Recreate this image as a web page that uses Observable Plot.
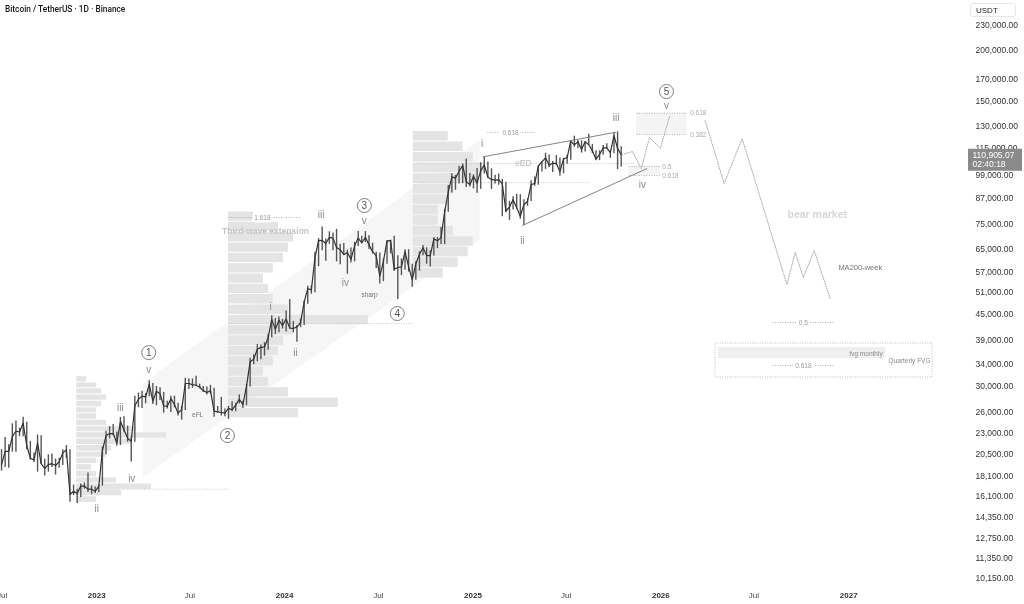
<!DOCTYPE html>
<html><head><meta charset="utf-8">
<script src="https://cdn.jsdelivr.net/npm/d3@7"></script>
<script src="https://cdn.jsdelivr.net/npm/@observablehq/plot@0.6"></script>
<style>
body{margin:0;background:#fff;font-family:"Liberation Sans",Arial,sans-serif}
#wrap{position:relative;width:1024px;height:604px;overflow:hidden;filter:grayscale(1)}
#title{position:absolute;left:5px;top:4px;font-size:8.3px;color:#131722;font-family:Roboto,"Liberation Sans",sans-serif;font-weight:500}
#unit{position:absolute;left:970px;top:3px;width:46px;height:14px;border:1px solid #e6e6e6;border-radius:3px;font-size:8px;line-height:14px;color:#222;padding-left:5px;box-sizing:border-box}
</style></head>
<body><div id="wrap"><div id="chart"></div><div id="title">Bitcoin / TetherUS · 1D · Binance</div><div id="unit">USDT</div></div>
<script>
// ---------- price data (weekly, thousands USDT), weeks starting 2022-06-27 ----------
const weekStart = "2022-06-27";
const lows = [
 18.6,19.0,18.9,20.7,20.7,22.6,22.6,21.0,19.8,19.5,18.5,19.3,18.1,18.5,19.0,18.2,18.9,19.2,20.0,15.6,16.2,15.5,16.0,16.8,16.5,16.3,16.4,
 16.5,17.1,20.4,22.3,22.7,21.4,21.5,23.1,21.9,19.6,21.9,26.6,26.5,27.2,28.3,27.1,26.9,27.7,25.8,26.4,25.9,26.6,25.4,24.8,26.2,29.5,29.7,30.0,29.6,29.0,28.6,28.7,25.2,25.8,25.4,25.3,24.9,26.0,26.0,27.2,26.5,26.9,29.9,33.9,34.5,34.9,35.6,36.8,39.5,40.2,40.6,41.5,
 40.8,41.5,40.6,38.5,41.8,42.3,47.7,50.5,50.9,59.0,64.5,60.8,66.9,64.5,60.6,59.6,62.8,56.5,60.2,60.6,66.1,67.1,67.6,65.0,63.4,58.4,53.5,54.2,59.8,63.4,57.5,49.0,56.1,57.8,57.2,52.5,54.6,57.5,62.7,59.8,58.9,62.6,65.3,66.8,66.8,80.2,89.4,90.8,94.0,94.2,92.2,92.5,91.5,
 89.3,91.2,99.5,97.0,91.2,94.1,93.4,78.2,80.0,76.6,81.2,81.6,77.1,74.4,83.0,85.2,92.8,93.4,100.7,102.1,103.1,100.4,104.2,98.2,99.6,105.1,107.5,115.7,114.7,112.0,112.6,116.8,111.7,107.3,107.3,110.6,114.4,108.7,111.5,102.0,103.5
];
const highs = [
 21.0,22.5,21.6,24.3,24.7,23.7,25.2,24.5,22.0,20.6,22.8,22.7,19.9,20.4,20.5,19.9,20.0,21.0,21.5,21.0,17.2,16.8,17.3,17.4,18.4,17.1,17.0,
 17.2,21.3,23.3,23.9,24.2,23.2,25.2,25.3,24.0,22.6,28.4,28.9,29.2,28.8,31.0,30.5,30.0,29.8,29.0,27.6,28.4,28.4,27.3,26.8,31.4,31.3,31.3,31.8,30.4,30.0,29.9,30.2,29.7,26.8,28.2,26.4,26.8,27.5,27.2,28.6,27.6,30.3,35.2,35.9,38.0,37.9,38.4,40.2,44.7,44.0,44.4,43.8,
 45.9,49.0,43.3,42.3,43.9,48.6,52.8,52.9,64.0,69.1,73.8,68.9,71.8,71.3,72.8,66.9,67.2,64.7,65.5,67.7,71.9,70.0,71.9,70.2,67.3,64.0,63.7,61.5,68.3,68.5,70.0,62.7,61.6,64.9,64.9,59.8,60.6,64.1,66.5,65.6,64.5,69.4,69.5,73.6,81.5,93.3,99.6,98.7,104.0,105.3,108.3,99.9,99.0,
 102.7,106.0,109.6,106.5,102.5,98.8,99.5,96.5,95.0,85.3,87.5,88.8,88.5,86.1,86.5,95.8,97.9,104.3,106.7,111.9,110.7,106.8,110.4,108.9,108.5,110.6,119.9,123.2,120.2,120.0,119.5,124.5,117.6,113.5,113.4,116.8,118.0,113.3,125.7,126.2,116.0
];
const closes = [
 19.3,20.8,20.8,22.6,23.3,23.2,24.4,21.5,20.0,19.8,21.8,19.4,18.9,19.3,19.4,19.2,19.6,20.6,21.0,16.3,16.6,16.4,17.1,17.1,16.8,16.8,16.6,
 17.1,20.9,22.7,23.0,23.0,21.8,24.6,23.5,22.4,22.0,26.9,27.9,28.4,28.3,30.4,27.6,29.2,28.8,26.9,26.8,28.0,27.1,25.8,26.3,30.5,30.5,30.3,30.2,29.9,29.3,29.0,29.3,26.1,26.0,25.9,25.8,26.5,26.3,27.0,27.9,27.1,30.0,34.5,35.0,37.0,37.4,37.5,39.5,43.8,41.4,43.6,42.3,
 43.9,41.7,41.6,42.0,43.0,48.3,52.1,51.7,62.0,68.3,68.4,67.2,69.6,69.3,65.7,64.9,63.1,63.9,61.5,66.3,69.3,67.5,69.6,66.7,64.2,62.7,55.9,60.8,68.2,68.3,58.1,58.7,58.9,64.2,58.9,54.8,59.9,63.3,65.6,62.8,62.8,69.0,68.3,69.5,80.4,89.9,97.9,97.2,101.1,104.4,95.2,93.7,98.3,
 94.5,101.3,104.7,97.7,96.5,96.1,96.3,94.2,80.7,82.6,86.1,82.3,78.4,83.8,85.2,93.7,94.3,104.1,106.5,109.0,104.6,105.7,105.6,100.9,108.4,109.2,119.8,117.3,119.4,114.2,119.3,117.4,113.5,108.2,111.1,115.3,115.3,112.2,123.5,115.0,110.9
];
const lastPrice = 110905.07;
const lastTime = "02:40:18";

// ---------- axis ticks ----------
const yTicks = [230000,200000,170000,150000,130000,115000,99000,87000,75000,65000,57000,51000,45000,39000,34000,30000,26000,23000,20500,18100,16100,14350,12750,11350,10150];
const julTicks = ["2022-07-01","2023-07-01","2024-07-01","2025-07-01","2026-07-01"];
const yearTicks = ["2023-01-01","2024-01-01","2025-01-01","2026-01-01","2027-01-01"];

// ---------- volume profiles (price bin edges in thousands, relative volume) ----------
const profile1Start = "2022-11-23";
const profile1Levels = [15.5,16.1,16.7,17.3,17.9,18.6,19.3,20.0,20.7,21.5,22.3,23.1,23.9,24.8,25.7,26.6,27.6,28.6,29.6,30.6,31.7];
const profile1Volume = [20,45,75,40,20,15,20,30,35,55,90,60,30,20,20,25,30,25,20,10];
const profile2Start = "2023-09-14";
const profile2Levels = [25.0,26.5,28.1,29.8,31.6,33.5,35.5,37.6,39.9,42.3,44.8,47.5,50.4,53.4,56.6,60.0,63.6,67.4,71.5,75.8,80.3];
const profile2Volume = [70,110,60,40,35,45,50,55,65,140,60,45,40,35,45,55,60,65,50,25];
const profile3Start = "2024-09-07";
const profile3Levels = [55,58.4,62.0,65.8,69.8,74.1,78.6,83.4,88.5,93.9,99.7,105.8,112.3,119.2,126.5];
const profile3Volume = [30,45,55,60,40,25,25,35,40,65,70,60,50,35];
const daysPerVolumeUnit = 1.94;
const profileLinePrices = [16800, 42800, 105600, 94800];
const profileLineFrom = ["2022-11-23","2023-09-14","2024-09-07","2024-09-07"];
const profileLineTo = ["2023-09-14","2024-09-07","2025-11-10","2025-08-17"];

// ---------- channel band ----------
const bandDates = ["2023-04-02","2025-01-15"];
const bandLow = [17950, 68365];
const bandHigh = [30550, 120180];

// ---------- Elliott wave labels ----------
const waveText = ["ii","iii","iv","v","i","ii","iii","iv","v","i","ii","iii","iv","v"];
const waveDates = ["2023-01-01","2023-02-16","2023-03-10","2023-04-12","2023-12-05","2024-01-22","2024-03-12","2024-04-28","2024-06-04","2025-01-19","2025-04-07","2025-10-06","2025-11-26","2026-01-12"];
const wavePrices = [15066,26640,17846,33000,47100,36316,79165,53935,76525,118180,68365,136850,93780,146450];
const circleText = ["1","2","3","4","5"];
const circleDates = ["2023-04-12","2023-09-12","2024-06-04","2024-08-07","2026-01-12"];
const circlePrices = [36316,22745,83290,45275,158490];

// ---------- notes ----------
const noteText = ["eFL","sharp","MA200-week"];
const noteDates = ["2023-07-16","2024-06-14","2026-12-12"];
const notePrices = [25610,50400,58700];

// ---------- wedge (ending diagonal) ----------
const wedgeFromDates = ["2025-01-20","2025-04-07"];
const wedgeFromPrices = [109600,74400];
const wedgeToDates = ["2025-10-06","2025-12-05"];
const wedgeToPrices = [126000,102600];

// ---------- projections ----------
const bullPathDates = ["2025-10-17","2025-11-07","2025-11-24","2025-12-10","2025-12-31","2026-01-18"];
const bullPathPrices = [110905,112950,102620,122240,114890,137630];
const bearPathDates = ["2026-03-28","2026-05-04","2026-06-08","2026-09-03","2026-09-19","2026-10-05","2026-10-26","2026-11-26"];
const bearPathPrices = [134550,94300,121550,53330,63880,55480,64610,49280];

// ---------- fib levels with centred labels ----------
const fibText = ["1.618","0.618","0.5","0.618"];
const fibPrices = [77830,125750,43040,33766];
const fibFrom = ["2023-09-14","2025-01-29","2026-08-06","2026-08-06"];
const fibTo = ["2024-02-01","2025-05-02","2026-12-03","2026-12-03"];
const fibMid = ["2023-11-19","2025-03-15","2026-10-05","2026-10-05"];

// ---------- fib zones ----------
const zoneFrom = ["2025-11-15","2025-10-31"];
const zoneTo = ["2026-02-21","2025-12-31"];
const zoneTop = [140200,103790];
const zoneBottom = [124330,98650];
const zoneTopText = ["0.618","0.5"];
const zoneBottomText = ["0.382","0.618"];
const zoneLabelDates = ["2026-02-27","2026-01-04"];

// ---------- FVG boxes ----------
const fvgOuter = {from:"2026-04-17", to:"2027-06-13", top:38227, bottom:31555};
const fvgInner = {from:"2026-04-23", to:"2027-03-14", top:37365, bottom:35110};
const fvgText = ["fvg monthly","Quarterly FVG"];
const fvgTextDates = ["2027-03-08","2027-06-09"];
const fvgTextPrices = [36110,34715];

// ---------- big labels ----------
const bigText = ["Third-wave extension","bear market","eED"];
const bigDates = ["2023-11-25","2026-11-01","2025-04-09"];
const bigPrices = [71915,79165,105560];

// ================= build =================
const D = s => new Date(s + "T00:00:00Z");
const candles = closes.map((c, i) => ({
  date: d3.utcDay.offset(D(weekStart), i * 7 + 3),
  low: lows[i] * 1000, high: highs[i] * 1000, close: c * 1000
}));
function profileBars(start, levels, vols) {
  return vols.map((v, i) => ({x1: D(start), x2: d3.utcHour.offset(D(start), Math.round(v * daysPerVolumeUnit * 24)), y1: levels[i] * 1000, y2: levels[i + 1] * 1000}));
}
const profiles = [
  ...profileBars(profile1Start, profile1Levels, profile1Volume),
  ...profileBars(profile2Start, profile2Levels, profile2Volume),
  ...profileBars(profile3Start, profile3Levels, profile3Volume)
];
const profileLines = profileLinePrices.map((p, i) => ({p, x1: D(profileLineFrom[i]), x2: D(profileLineTo[i])}));
const band = bandDates.map((d, i) => ({x: D(d), y1: bandLow[i], y2: bandHigh[i]}));
const waves = waveText.map((t, i) => ({t, x: D(waveDates[i]), y: wavePrices[i]}));
const circles = circleText.map((t, i) => ({t, x: D(circleDates[i]), y: circlePrices[i]}));
const notes = noteText.map((t, i) => ({t, x: D(noteDates[i]), y: notePrices[i]}));
const wedge = wedgeFromDates.map((d, i) => ({x1: D(d), y1: wedgeFromPrices[i], x2: D(wedgeToDates[i]), y2: wedgeToPrices[i]}));
const bull = bullPathDates.map((d, i) => ({x: D(d), y: bullPathPrices[i]}));
const bear = bearPathDates.map((d, i) => ({x: D(d), y: bearPathPrices[i]}));
const fibs = fibText.map((t, i) => ({t, y: fibPrices[i], x1: D(fibFrom[i]), x2: D(fibTo[i]), xm: D(fibMid[i])}));
const zones = zoneFrom.map((d, i) => ({x1: D(d), x2: D(zoneTo[i]), top: zoneTop[i], bottom: zoneBottom[i], tt: zoneTopText[i], bt: zoneBottomText[i], lx: D(zoneLabelDates[i])}));
const fvgLabels = fvgText.map((t, i) => ({t, x: D(fvgTextDates[i]), y: fvgTextPrices[i]}));
const big = bigText.map((t, i) => ({t, x: D(bigDates[i]), y: bigPrices[i]}));
const fmt = d3.format(",.2f");

const chart = Plot.plot({
  width: 1024, height: 604,
  marginLeft: 0, marginRight: 59, marginTop: 0, marginBottom: 20,
  style: {fontFamily: "'Liberation Sans', Arial, sans-serif", background: "#fff", color: "#333"},
  x: {type: "utc", domain: [D("2022-06-28"), D("2027-08-16")], axis: null},
  y: {type: "log", domain: [9811, 264900], axis: null},
  marks: [
    // channel band
    Plot.areaY(band, {x: "x", y1: "y1", y2: "y2", fill: "#f6f6f6"}),
    // volume profiles
    Plot.rect(profiles, {x1: "x1", x2: "x2", y1: "y1", y2: "y2", fill: "#e4e4e4", insetBottom: 1, ariaLabel: "profile"}),
    Plot.link(profileLines, {x1: "x1", x2: "x2", y1: "p", y2: "p", stroke: "#c8c8c8", strokeWidth: 1, strokeDasharray: "1,1.5"}),
    // fib zones
    Plot.rect(zones, {x1: "x1", x2: "x2", y1: "bottom", y2: "top", fill: "#f4f4f4"}),
    Plot.link(zones, {x1: "x1", x2: "x2", y1: "top", y2: "top", stroke: "#b5b5b5", strokeDasharray: "1,1.5"}),
    Plot.link(zones, {x1: "x1", x2: "x2", y1: "bottom", y2: "bottom", stroke: "#b5b5b5", strokeDasharray: "1,1.5"}),
    Plot.text(zones, {x: "lx", y: "top", text: "tt", textAnchor: "start", fontSize: 6.5, fill: "#aaa"}),
    Plot.text(zones, {x: "lx", y: "bottom", text: "bt", textAnchor: "start", fontSize: 6.5, fill: "#aaa"}),
    // FVG
    Plot.rect([fvgOuter], {x1: d => D(d.from), x2: d => D(d.to), y1: "bottom", y2: "top", fill: "none", stroke: "#bdbdbd", strokeDasharray: "1,1.5"}),
    Plot.rect([fvgInner], {x1: d => D(d.from), x2: d => D(d.to), y1: "bottom", y2: "top", fill: "#efefef"}),
    Plot.text(fvgLabels, {x: "x", y: "y", text: "t", textAnchor: "end", fontSize: 6.5, fill: "#8c8c8c"}),
    // fib lines
    Plot.link(fibs, {x1: "x1", x2: "x2", y1: "y", y2: "y", stroke: "#b0b0b0", strokeDasharray: "1,1.5"}),
    Plot.text(fibs, {x: "xm", y: "y", text: "t", fontSize: 6.5, fill: "#9a9a9a", stroke: "#fff", strokeWidth: 5}),
    // price
    Plot.ruleX(candles, {x: "date", y1: "low", y2: "high", stroke: "#555", strokeWidth: 1.4}),
    Plot.line(candles, {x: "date", y: "close", stroke: "#333", strokeWidth: 1.2}),
    // wedge
    Plot.link(wedge, {x1: "x1", y1: "y1", x2: "x2", y2: "y2", stroke: "#777", strokeWidth: 0.9}),
    // projections
    Plot.line(bull, {x: "x", y: "y", stroke: "#a8a8a8", strokeWidth: 1, strokeDasharray: "1,1.5"}),
    Plot.line(bear, {x: "x", y: "y", stroke: "#a8a8a8", strokeWidth: 1, strokeDasharray: "1,1.5"}),
    // labels
    Plot.text(big.slice(0, 1), {x: "x", y: "y", text: "t", fontSize: 8.5, fontWeight: "bold", fill: "#c4c4c4"}),
    Plot.text(big.slice(1, 2), {x: "x", y: "y", text: "t", fontSize: 10.5, fontWeight: "bold", fill: "#d6d6d6"}),
    Plot.text(big.slice(2, 3), {x: "x", y: "y", text: "t", fontSize: 8.5, fill: "#b8b8b8"}),
    Plot.text(notes.slice(0, 2), {x: "x", y: "y", text: "t", fontSize: 6.5, fill: "#777"}),
    Plot.text(notes.slice(2), {x: "x", y: "y", text: "t", fontSize: 7.5, fill: "#777", textAnchor: "start"}),
    Plot.text(waves, {x: "x", y: "y", text: "t", fontSize: 10, fill: "#8a8a8a"}),
    Plot.dot(circles, {x: "x", y: "y", r: 7, stroke: "#6f6f6f", strokeWidth: 0.9, fill: "#fff"}),
    Plot.text(circles, {x: "x", y: "y", text: "t", fontSize: 10, fill: "#555"}),
    // axes
    Plot.axisY({anchor: "right", ticks: yTicks, tickFormat: fmt, tickSize: 0, tickPadding: 10, fontSize: 8.5, label: null, fill: "#333"}),
    Plot.axisX({ticks: julTicks.map(D), tickFormat: () => "Jul", tickSize: 0, tickPadding: 8, fontSize: 8, label: null, fill: "#444"}),
    Plot.axisX({ticks: yearTicks.map(D), tickFormat: d => String(d.getUTCFullYear()), tickSize: 0, tickPadding: 8, fontSize: 8, fontWeight: "bold", label: null, fill: "#333"}),
    // current price tag
    Plot.ruleY([lastPrice], {stroke: "#8a8a8a", strokeWidth: 22, dy: 5, insetLeft: 968, insetRight: -57}),
    Plot.text([lastPrice], {y: d => d, text: d => fmt(d), frameAnchor: "right", textAnchor: "start", dx: 7, fontSize: 8.5, fill: "#fff"}),
    Plot.text([lastPrice], {y: d => d, text: () => lastTime, frameAnchor: "right", textAnchor: "start", dx: 7, dy: 9, fontSize: 8.5, fill: "#fff"})
  ]
});
// fine horizontal rows inside the volume profile bars (TradingView-like)
const svg = d3.select(chart);
const defs = svg.insert("defs", ":first-child");
const pat = defs.append("pattern").attr("id", "rows").attr("patternUnits", "userSpaceOnUse").attr("width", 4).attr("height", 2);
pat.append("rect").attr("width", 4).attr("height", 1).attr("fill", "#dcdcdc");
svg.selectAll('g[aria-label="profile"] rect').attr("fill", "url(#rows)");
document.getElementById("chart").appendChild(chart);
</script>
</body></html>
